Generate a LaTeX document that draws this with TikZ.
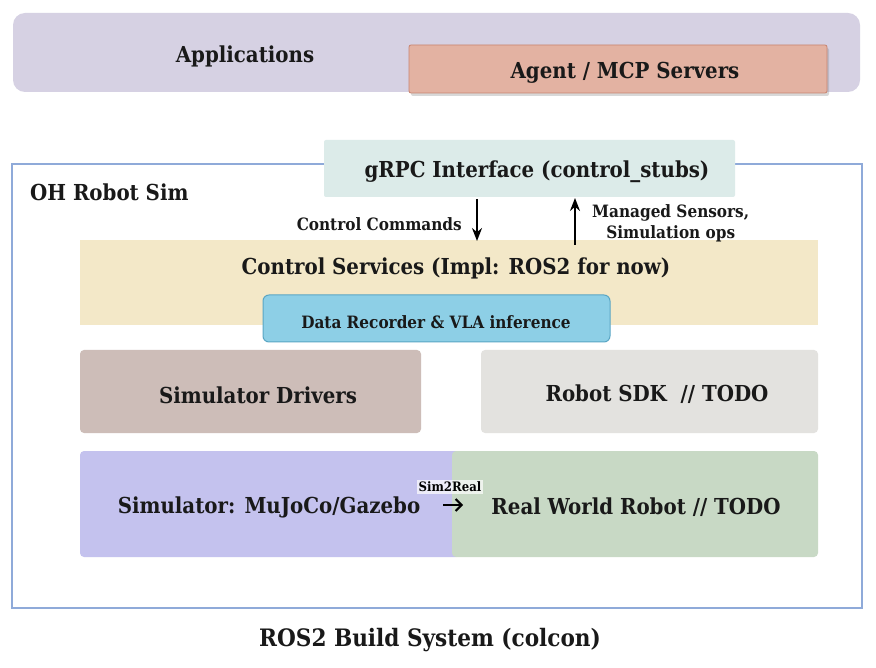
\documentclass[tikz,border=0pt]{standalone}
\usepackage{fontspec}
\setmainfont{DejaVu Serif Condensed}
\usetikzlibrary{shadows,arrows.meta}
\definecolor{appfill}{HTML}{D6D1E3}
\definecolor{agentfill}{HTML}{E3B2A2}
\definecolor{agentdraw}{HTML}{C8846F}
\definecolor{grpcfill}{HTML}{DCEBE9}
\definecolor{ctrlfill}{HTML}{F3E8C8}
\definecolor{datafill}{HTML}{8DCFE6}
\definecolor{datadraw}{HTML}{5AA6C4}
\definecolor{drvfill}{HTML}{CDBDB8}
\definecolor{sdkfill}{HTML}{E3E2DF}
\definecolor{simfill}{HTML}{C4C2EE}
\definecolor{realfill}{HTML}{C8D9C5}
\definecolor{framedraw}{HTML}{8FAAD9}
\tikzset{
  lbl/.style={font=\bfseries\fontsize{22}{25}\selectfont, inner sep=0pt, text=black!90},
  smalllbl/.style={font=\bfseries\fontsize{17}{21}\selectfont, inner sep=0pt, align=center, text=black!90},
  flowarrow/.style={-{Stealth[length=13pt,width=10pt]}, line width=1.8pt},
}
\begin{document}
\begin{tikzpicture}[x=1pt,y=-1pt]
\useasboundingbox[fill=white] (0,0) rectangle (876,668);
% Applications
\path[fill=appfill, rounded corners=12pt] (13,13) rectangle (860,92);
\node[lbl] (app) at (245,56) {Applications};
\path[fill=agentfill, draw=agentdraw, line width=0.8pt, rounded corners=2pt,
  drop shadow={shadow xshift=2pt, shadow yshift=-3pt, opacity=0.3}] (409,45) rectangle (827,93);
\node[lbl] (agent) at (625,73) {Agent / MCP Servers};
% Frame
\draw[framedraw, line width=2.4pt] (12,164) rectangle (862,608);
\node[lbl, anchor=west] (ohsim) at (30,192) {OH Robot Sim};
% gRPC
\path[fill=grpcfill, rounded corners=2pt] (324,140) rectangle (735,197);
\node[lbl] (grpc) at (537,172) {gRPC Interface (control\_stubs)};
% Control services
\path[fill=ctrlfill] (80,240) rectangle (818,325);
\node[lbl] (ctrl) at (456,268) {Control Services (Impl: ROS2 for now)};
\coordinate (dtop) at (477,199);
\coordinate (dbot) at (477,241);
\coordinate (utop) at (575,198);
\coordinate (ubot) at (575,245);
\draw[flowarrow] (dtop) -- (dbot);
\draw[flowarrow] (ubot) -- (utop);
\node[smalllbl, anchor=east] (cc) at (462,224) {Control Commands};
\node[smalllbl, anchor=west] (ms) at (592,223) {Managed Sensors,\\Simulation ops};
% Data recorder
\path[fill=datafill, draw=datadraw, line width=1pt, rounded corners=6pt] (263,295) rectangle (610,342);
\node[font=\bfseries\fontsize{17}{20}\selectfont, inner sep=0pt, text=black!90] (data) at (436,322) {Data Recorder \& VLA inference};
% Drivers / SDK
\path[fill=drvfill, rounded corners=4pt] (80,350) rectangle (421,433);
\node[lbl] (drv) at (258,395) {Simulator Drivers};
\path[fill=sdkfill, rounded corners=4pt] (481,350) rectangle (818,433);
\node[lbl] (sdk) at (657,394) {Robot SDK\ \ // TODO};
% Sim / Real
\path[fill=simfill, rounded corners=4pt] (80,451) rectangle (460,557);
\path[fill=realfill, rounded corners=4pt] (452,451) rectangle (818,557);
\path[fill=simfill] (440,451) rectangle (452,557);
\node[lbl] (sim) at (269,507) {Simulator: MuJoCo/Gazebo};
\node[lbl] (real) at (636,507) {Real World Robot // TODO};
\node[fill=white, fill opacity=0.7, text opacity=1, font=\bfseries\fontsize{13}{15}\selectfont, inner sep=1.5pt] (s2r) at (450,487) {Sim2Real};
\coordinate (s2ra) at (443,505);
\coordinate (s2rb) at (463,505);
\draw[-{Straight Barb[length=6pt,width=12pt]}, line width=2pt] (s2ra) -- (s2rb);
% Bottom
\node[font=\bfseries\fontsize{24}{28}\selectfont, inner sep=0pt, text=black!90] (ros) at (430,640) {ROS2 Build System (colcon)};
\end{tikzpicture}
\end{document}
